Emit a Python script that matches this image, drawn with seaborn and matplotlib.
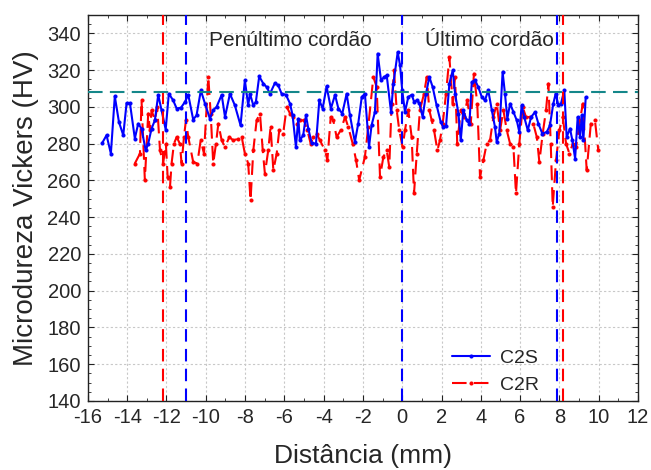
import numpy as np
import pandas as pd
import seaborn as sns
import matplotlib.pyplot as plt
from matplotlib.ticker import MultipleLocator

# C2S profile (distance mm, hardness HV)
c2s_x = [-15.27, -15.05, -14.83, -14.63, -14.42, -14.20, -14.03, -13.86, -13.61, -13.44,
         -13.27, -13.06, -12.93, -12.76, -12.59, -12.42, -12.25, -12.04, -11.88, -11.66,
         -11.48, -11.26, -11.06, -10.89, -10.64, -10.47, -10.25, -10.04, -9.79, -9.62,
         -9.45, -9.19, -9.02, -8.77, -8.52, -8.23, -8.01, -7.84, -7.75, -7.58,
         -7.45, -7.28, -7.07, -6.90, -6.73, -6.48, -6.31, -6.14, -5.92, -5.71,
         -5.58, -5.41, -5.29, -5.21, -5.04, -4.90, -4.78, -4.61, -4.39, -4.22,
         -4.05, -3.85, -3.63, -3.42, -3.25, -3.05, -2.83, -2.66, -2.41, -2.24,
         -2.06, -1.90, -1.69, -1.56, -1.39, -1.25, -1.08, -0.91, -0.79, -0.57,
         -0.45, -0.23, -0.11, 0.00, 0.14, 0.31, 0.48, 0.61, 0.73, 0.87,
         1.04, 1.21, 1.38, 1.55, 1.75, 1.96, 2.09, 2.23, 2.40, 2.57,
         2.69, 2.86, 2.98, 3.11, 3.28, 3.42, 3.54, 3.71, 3.87, 4.05,
         4.21, 4.38, 4.56, 4.72, 4.81, 4.94, 5.11, 5.23, 5.35, 5.49,
         5.66, 5.83, 5.96, 6.08, 6.21, 6.39, 6.56, 6.76, 6.93, 7.13,
         7.36, 7.52, 7.69, 7.81, 7.95, 8.08, 8.25, 8.37, 8.54, 8.66,
         8.80, 8.93, 9.05, 9.14, 9.22, 9.34]
c2s_hv = [280.4, 284.6, 274.6, 305.8, 291.8, 284.6, 302.1, 302.1, 282.8, 290.9,
          288.2, 276.4, 280.0, 288.2, 292.7, 306.6, 298.2, 287.7, 307.2, 303.6,
          299.1, 299.6, 302.7, 306.6, 293.1, 295.4, 309.0, 301.8, 293.6, 298.2,
          300.0, 306.6, 294.5, 307.2, 300.9, 290.0, 314.5, 300.9, 307.2, 300.9,
          302.7, 316.6, 312.7, 310.8, 307.2, 313.0, 311.7, 307.2, 306.6, 301.8,
          295.4, 278.2, 293.6, 281.8, 284.6, 295.4, 288.2, 280.4, 280.0, 303.6,
          299.1, 311.2, 299.1, 306.6, 299.1, 296.4, 307.2, 295.4, 280.9, 290.9,
          305.4, 307.2, 278.2, 290.0, 297.2, 329.0, 314.5, 316.3, 317.2, 297.2,
          312.7, 329.8, 322.6, 309.0, 297.2, 305.4, 306.6, 302.7, 303.6, 302.1,
          294.5, 307.2, 316.3, 310.8, 300.9, 291.8, 289.1, 289.5, 312.7, 319.9,
          307.2, 296.4, 281.8, 298.2, 292.7, 290.9, 313.5, 314.5, 310.8, 305.4,
          303.6, 309.0, 298.2, 289.1, 281.0, 285.5, 319.0, 307.2, 293.6, 301.8,
          297.2, 292.7, 286.4, 300.9, 294.5, 287.3, 294.5, 297.2, 290.9, 285.5,
          286.4, 290.0, 301.8, 307.2, 300.9, 301.8, 309.0, 283.6, 288.2, 281.8,
          271.9, 294.5, 283.6, 295.4, 281.8, 305.4]

# C2R profile
c2r_x = [-13.61, -13.35, -13.27, -13.10, -12.93, -12.84, -12.76, -12.59, -12.47, -12.33,
         -12.17, -12.03, -11.94, -11.82, -11.74, -11.62, -11.48, -11.32, -11.23, -11.11,
         -11.01, -10.89, -10.64, -10.43, -10.26, -10.09, -9.87, -9.75, -9.62, -9.48,
         -9.36, -9.19, -9.02, -8.80, -8.60, -8.35, -8.17, -8.01, -7.84, -7.72,
         -7.58, -7.41, -7.24, -7.10, -6.99, -6.82, -6.70, -6.56, -6.39, -6.26,
         -6.06, -5.88, -5.71, -5.55, -5.37, -5.21, -5.00, -4.83, -4.66, -4.53,
         -4.36, -4.19, -3.93, -3.81, -3.64, -3.51, -3.34, -3.13, -2.91, -2.75,
         -2.52, -2.35, -2.19, -1.90, -1.73, -1.47, -1.30, -1.13, -0.96, -0.79,
         -0.66, -0.54, -0.42, -0.28, -0.15, 0.02, 0.14, 0.31, 0.48, 0.60,
         0.74, 0.90, 1.11, 1.25, 1.38, 1.50, 1.62, 1.79, 1.92, 2.06,
         2.23, 2.40, 2.57, 2.69, 2.80, 2.98, 3.14, 3.31, 3.49, 3.65,
         3.82, 3.96, 4.13, 4.30, 4.47, 4.64, 4.81, 4.98, 5.15, 5.32,
         5.49, 5.66, 5.79, 5.96, 6.13, 6.30, 6.51, 6.67, 6.85, 6.98,
         7.15, 7.32, 7.44, 7.56, 7.66, 7.83, 8.00, 8.17, 8.34, 8.51,
         8.68, 8.85, 9.05, 9.19, 9.39, 9.60, 9.81, 9.98]
c2r_hv = [269.2, 274.6, 303.6, 260.1, 296.4, 287.3, 298.2, 292.7, 300.0, 276.4,
          269.2, 280.0, 261.9, 256.5, 269.2, 280.0, 283.6, 280.0, 269.2, 283.6,
          292.7, 283.6, 270.0, 269.2, 281.8, 274.6, 316.3, 296.4, 269.2, 280.0,
          290.9, 281.8, 278.2, 283.6, 281.8, 282.7, 283.6, 274.6, 269.2, 249.2,
          276.4, 292.7, 296.4, 276.4, 263.7, 276.4, 289.1, 265.5, 274.6, 287.3,
          285.5, 300.0, 296.4, 294.5, 290.9, 292.7, 292.7, 287.3, 280.0, 283.6,
          285.5, 281.8, 276.4, 271.0, 294.5, 292.7, 283.6, 287.3, 294.5, 289.1,
          280.0, 271.0, 260.1, 272.8, 289.1, 316.3, 310.8, 261.9, 272.8, 276.4,
          267.3, 301.8, 319.9, 298.2, 287.3, 278.2, 287.3, 298.2, 283.6, 252.9,
          274.6, 298.2, 307.2, 316.3, 298.2, 292.7, 287.3, 276.4, 281.8, 290.9,
          307.2, 327.1, 301.8, 316.3, 280.0, 298.2, 294.5, 303.6, 290.9, 318.1,
          301.8, 261.9, 271.0, 280.0, 281.8, 294.5, 301.8, 287.3, 298.2, 287.3,
          280.0, 278.2, 252.9, 280.0, 300.0, 294.5, 294.5, 290.9, 283.6, 270.0,
          285.5, 298.2, 312.7, 280.0, 245.6, 271.0, 287.3, 294.5, 280.0, 274.6,
          280.0, 278.2, 292.7, 301.8, 265.5, 290.9, 292.7, 276.4]

red_lines = [-12.2, 8.2]
blue_lines = [-11.0, 0.0, 7.9]
hv_ref = 308

df = pd.concat([
    pd.DataFrame({'x': c2s_x, 'hv': c2s_hv, 'serie': 'C2S'}),
    pd.DataFrame({'x': c2r_x, 'hv': c2r_hv, 'serie': 'C2R'}),
])

sns.set_style("ticks")
plt.rcParams['font.family'] = ['Liberation Sans', 'DejaVu Sans']
plt.rcParams['axes.unicode_minus'] = False

fig = plt.figure(figsize=(6.51, 4.70), dpi=100)
ax = fig.add_axes([0.135, 0.147, 0.845, 0.821])

sns.lineplot(data=df[df.serie == 'C2S'], x='x', y='hv', color='#0000ff', lw=1.5,
             marker='o', ms=2.2, mec='#0000ff', estimator=None, sort=False,
             label='C2S', ax=ax, zorder=4)
sns.lineplot(data=df[df.serie == 'C2R'], x='x', y='hv', color='#ff0000', lw=1.5,
             marker='o', ms=2.2, mec='#ff0000', estimator=None, sort=False,
             label='C2R', ax=ax, zorder=3)
ax.lines[-1].set_dashes([7, 3.5])

for v in red_lines:
    ax.axvline(v, color='#ff0000', lw=1.5, dashes=(6, 3.5), zorder=5)
for v in blue_lines:
    ax.axvline(v, color='#0000ff', lw=1.5, dashes=(6, 3.5), zorder=5)
ax.axhline(hv_ref, color='#14878a', lw=1.5, dashes=(7, 3.5), zorder=5)

ax.text(-5.7, 336, 'Penúltimo cordão', fontsize=15, ha='center', va='center')
ax.text(4.45, 336, 'Último cordão', fontsize=15, ha='center', va='center')

ax.set_xlim(-16, 12)
ax.set_ylim(140, 350)
ax.xaxis.set_major_locator(MultipleLocator(2))
ax.xaxis.set_minor_locator(MultipleLocator(1))
ax.yaxis.set_minor_locator(MultipleLocator(5))
ax.set_yticks(np.arange(140, 341, 20))
ax.grid(True, which='major', color='#c8c8c8', ls=(0, (2, 2)), lw=0.8)
ax.tick_params(which='both', direction='in', top=True, right=True, labelsize=14.5,
               color='#222222', pad=5)
ax.tick_params(which='major', length=4)
ax.tick_params(which='minor', length=2.5)
for s in ax.spines.values():
    s.set_color('#222222')
    s.set_linewidth(1.0)

ax.set_xlabel('Distância (mm)', fontsize=19, labelpad=12)
ax.set_ylabel('Microdureza Vickers (HV)', fontsize=20, labelpad=6)

leg = ax.legend(loc='lower left', bbox_to_anchor=(0.631, -0.028), frameon=False,
                fontsize=14, handlelength=1.95, handletextpad=0.5, labelspacing=0.5)

fig.savefig('out.png', dpi=100)
